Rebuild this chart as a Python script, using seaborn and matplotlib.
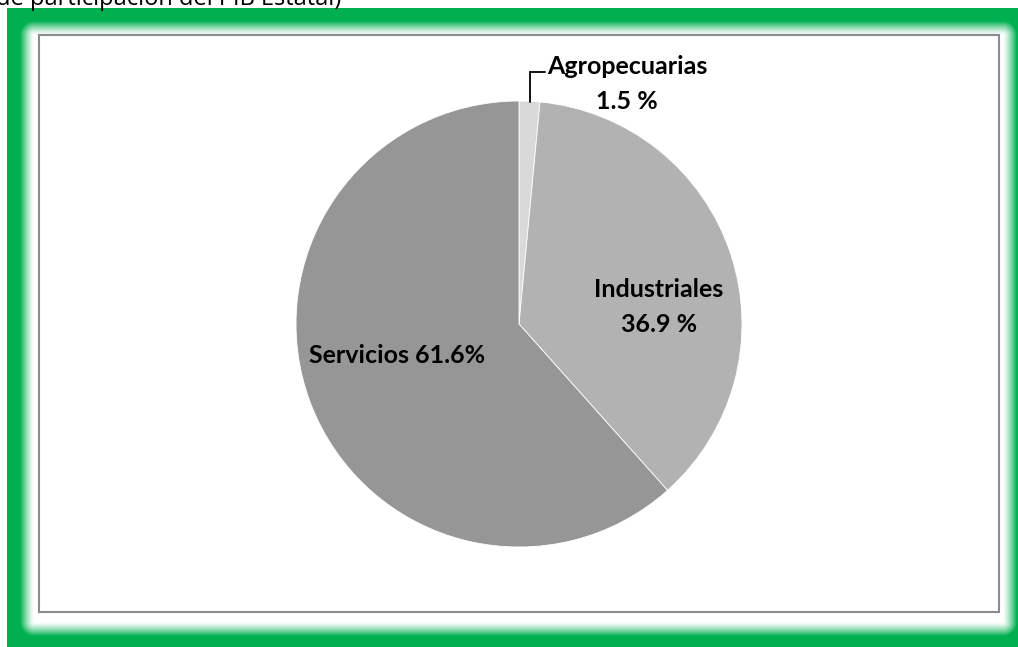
import numpy as np
import matplotlib
matplotlib.use("Agg")
import matplotlib.pyplot as plt
from matplotlib.patches import Rectangle
import seaborn as sns

# ---- data ----
sectors = ["Agropecuarias", "Industriales", "Servicios"]
shares = [1.5, 36.9, 61.6]
label_texts = ["Agropecuarias\n1.5 %", "Industriales\n36.9 %", "Servicios 61.6%"]
slice_colors = ["#D9D9D9", "#B2B2B2", "#969696"]
title_fragment = "de participación del PIB Estatal)"

sns.set_theme(style="white")
plt.rcParams["font.family"] = ["Lato", "DejaVu Sans"]

W, H = 1018, 647
fig = plt.figure(figsize=(W / 100, H / 100), dpi=100)
fig.patch.set_facecolor("white")

# ---- background frame with glowing green border ----
bg = fig.add_axes([0, 0, 1, 1], zorder=0)
yy, xx = np.mgrid[0:H, 0:W] + 0.5
ix0, ix1, iy0, iy1 = 34, 1003, 35, 622
dx = np.maximum.reduce([ix0 - xx, np.zeros_like(xx), xx - ix1])
dy = np.maximum.reduce([iy0 - yy, np.zeros_like(yy), yy - iy1])
dist = np.sqrt(dx ** 2 + dy ** 2)
t = np.clip(dist / 14.0, 0, 1) ** 1.3
green = np.array([0, 176, 80]) / 255.0
img = np.ones((H, W, 3)) * (1 - t[..., None]) + green * t[..., None]
outside = (xx < 7) | (yy < 8)
img[outside] = 1.0
bg.imshow(img, extent=(0, W, H, 0), interpolation="nearest", aspect="auto")
bg.set_xlim(0, W)
bg.set_ylim(H, 0)
bg.axis("off")
bg.add_patch(Rectangle((39, 35), 960, 577, fill=False, edgecolor="#8C8C8C", linewidth=1.5))

fig.text(-4 / W, 1 - 5 / H, title_fragment, fontsize=17, color="black",
         va="baseline", ha="left", family=["Open Sans", "DejaVu Sans"])

# ---- pie ----
cx, cy, r = 519, 324, 223
ax = fig.add_axes([(cx - r) / W, (H - cy - r) / H, 2 * r / W, 2 * r / H], zorder=2)
ax.pie(shares, colors=slice_colors, startangle=90, counterclock=False, radius=1,
       wedgeprops=dict(edgecolor="white", linewidth=0.6))
ax.set_xlim(-1, 1)
ax.set_ylim(-1, 1)
ax.set_aspect("auto")
ax.axis("off")

def px(x, y):
    return ((x - cx) / r, (cy - y) / r)

lab_pos = [px(627, 84), px(659, 307), px(397, 356)]
for txt, (lx, ly) in zip(label_texts, lab_pos):
    ax.text(lx, ly, txt, ha="center", va="center", fontsize=18, fontweight="bold",
            color="black", linespacing=1.6, clip_on=False)

# leader line for the small slice
p0 = px(530, 102)
p1 = px(530, 72)
p2 = px(545, 72)
ax.plot([p0[0], p1[0], p2[0]], [p0[1], p1[1], p2[1]], color="black", linewidth=1.3,
        clip_on=False, solid_joinstyle="miter")

fig.savefig("out.png", dpi=100)
